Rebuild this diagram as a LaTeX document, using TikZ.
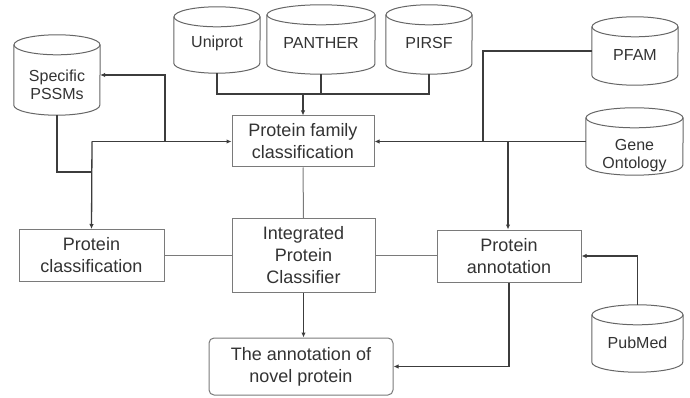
\documentclass[tikz,border=0pt]{standalone}
\usepackage{fontspec}
\setmainfont{Liberation Sans}
\usetikzlibrary{arrows.meta}
\definecolor{txt}{HTML}{333333}
\definecolor{boxc}{HTML}{7A7A7A}
\definecolor{cylc}{HTML}{666666}
\definecolor{conn}{HTML}{3C3C3C}
\tikzset{
  boxnode/.style={draw=boxc, line width=1pt, align=center, text=txt, inner sep=0pt,
    font=\fontsize{18}{22}\selectfont},
  dbshape/.style={inner sep=0pt},
  dbline/.style={draw=cylc, line width=1pt},
  dbtext/.style={align=center, text=txt, inner sep=0pt, font=\fontsize{16}{18}\selectfont},
  conline/.style={draw=conn, line width=1.3pt},
  arr/.style={conline, -{Latex[length=5pt,width=4.5pt]}},
}
% name, cx, cy, width, height, text shift, text
\newcommand\dbnode[7]{%
  \node[dbshape, minimum width=#4pt, minimum height=#5pt] (#1) at (#2,#3) {};
  \draw[dbline] ([yshift=-10pt]#1.north west) -- ([yshift=10pt]#1.south west)
     arc[start angle=180, end angle=360, x radius=#4pt/2, y radius=10pt]
     -- ([yshift=-10pt]#1.north east);
  \draw[dbline] ([yshift=-10pt]#1.north) ellipse[x radius=#4pt/2, y radius=10pt];
  \node[dbtext] (#1 text) at ([yshift=-#6pt]#1.center) {#7};
}
\begin{document}
\begin{tikzpicture}[x=1pt, y=-1pt]
\useasboundingbox[fill=white] (0,0) rectangle (690,398);

% databases
\dbnode{uniprot}{217}{40}{86}{66}{3}{Uniprot}
\dbnode{panther}{321}{39.5}{108}{69}{3}{PANTHER}
\dbnode{pirsf}{429}{39.5}{86}{69}{3}{PIRSF}
\dbnode{pssm}{57}{75}{86}{80}{10}{Specific\\PSSMs}
\dbnode{pfam}{635}{51}{86}{68}{4}{PFAM}
\dbnode{go}{634.5}{141.5}{97}{67}{14}{Gene\\Ontology}
\dbnode{pubmed}{637.5}{338.5}{91}{67}{4}{PubMed}

% boxes
\node[boxnode, minimum width=142pt, minimum height=51pt] (pfc) at (303,141.5) {Protein family\\classification};
\node[boxnode, minimum width=145pt, minimum height=52pt] (pc) at (91.5,255.5) {Protein\\classification};
\node[boxnode, minimum width=143pt, minimum height=74pt] (ipc) at (303.5,255.5) {Integrated\\Protein\\Classifier};
\node[boxnode, minimum width=144pt, minimum height=52pt] (pa) at (509,256) {Protein\\annotation};
\node[boxnode, rounded corners=5pt, minimum width=184pt, minimum height=57pt] (nov) at (301,366.5) {The annotation of\\novel protein};

% top bus
\coordinate (bus) at (303,94);
\draw[conline] (uniprot.south) |- (bus) -| (pirsf.south);
\draw[conline] (panther.south) -- (panther.south |- bus);
\draw[arr] (bus) -- (pfc.north);

% left side
\coordinate (lj) at (92,141.5);
\coordinate (lk) at (165,141.5);
\coordinate (lm) at (92,172);
\draw[arr] (lj) -- (pfc.west);
\draw[arr] (lj) -- (pc.north);
\draw[arr] (lk) |- (pssm.east);
\draw[conline] (pssm.south) |- (lm);

% right side
\coordinate (rj) at (483,141.5);
\coordinate (rk) at (508,141.5);
\draw[conline] (pfam.west) -| (rj);
\draw[arr] (go.west) -- (pfc.east);
\draw[arr] (rk) -- (rk |- pa.north);

% middle
\draw[boxc, line width=1pt] (pfc.south) -- (ipc.north);
\draw[boxc, line width=1pt] (pc.east) -- (ipc.west);
\draw[boxc, line width=1pt] (ipc.east) -- (ipc.east -| pa.west);
\draw[arr] (ipc.south) -- (ipc.south |- nov.north);
\draw[arr] (pa.south) |- (nov.east);
\draw[arr] (pubmed.north) |- (pa.east);
\end{tikzpicture}
\end{document}
